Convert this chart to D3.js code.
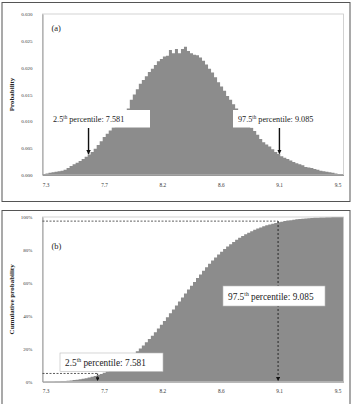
<!DOCTYPE html>
<html>
<head>
<meta charset="utf-8">
<script src="https://cdn.jsdelivr.net/npm/d3@7"></script>
<style>
body { margin: 0; background: #fff; }
svg { display: block; font-family: "Liberation Serif", "Times New Roman", serif; }
</style>
</head>
<body>
<div id="chart"></div>
<script>
// Histogram of simulated values (probability per bin)
const probs = [
    0.0002, 0.0003, 0.0004, 0.0005, 0.0006, 0.0007, 0.0008, 0.0010, 0.0013, 0.0017,
    0.0020, 0.0023, 0.0026, 0.0030, 0.0034, 0.0038, 0.0043, 0.0049, 0.0056, 0.0063,
    0.0071, 0.0077, 0.0083, 0.0089, 0.0096, 0.0103, 0.0112, 0.0120, 0.0124, 0.0140,
    0.0150, 0.0160, 0.0170, 0.0177, 0.0184, 0.0192, 0.0198, 0.0205, 0.0212, 0.0216,
    0.0221, 0.0222, 0.0233, 0.0227, 0.0235, 0.0227, 0.0235, 0.0239, 0.0231, 0.0227,
    0.0224, 0.0223, 0.0219, 0.0213, 0.0206, 0.0198, 0.0191, 0.0182, 0.0173, 0.0165,
    0.0157, 0.0147, 0.0140, 0.0132, 0.0124, 0.0116, 0.0108, 0.0101, 0.0094, 0.0088,
    0.0082, 0.0075, 0.0067, 0.0061, 0.0057, 0.0053, 0.0048, 0.0043, 0.0039, 0.0035,
    0.0032, 0.0030, 0.0027, 0.0024, 0.0022, 0.0020, 0.0018, 0.0015, 0.0014, 0.0013,
    0.0011, 0.0010, 0.0008, 0.0007, 0.0006, 0.0005, 0.0004, 0.0003, 0.0002, 0.0002
];
const binStart = 7.276;
const binWidth = 0.02269;

const xTicks = [7.3, 7.74, 8.18, 8.62, 9.06, 9.5];
const probTicks = [0, 0.005, 0.010, 0.015, 0.020, 0.025, 0.030];
const cumTicks = [0, 0.2, 0.4, 0.6, 0.8, 1.0];

// annotation positions (x in data units, as drawn in the figure)
const lowArrowA = 7.623, highArrowA = 9.062;
const lowArrowB = 7.691, highArrowB = 9.052;
const lowLevelB = 0.05, highLevelB = 0.975;

const total = d3.sum(probs);
const cum = Array.from(d3.cumsum(probs), v => v / total);

const W = 353, H = 404;
const fill = "#8c8c8c";
const serif = '"Liberation Serif", "Times New Roman", serif';

const svg = d3.select("#chart").append("svg")
    .attr("width", W).attr("height", H)
    .attr("font-family", serif);

const defs = svg.append("defs");
defs.append("marker")
    .attr("id", "head")
    .attr("viewBox", "0 0 10 10")
    .attr("refX", 9).attr("refY", 5)
    .attr("markerWidth", 3.2).attr("markerHeight", 3.2)
    .attr("markerUnits", "strokeWidth")
    .attr("orient", "auto")
    .append("path").attr("d", "M0,0L10,5L0,10Z").attr("fill", "#111");

const x = d3.scaleLinear()
    .domain([binStart, binStart + binWidth * probs.length])
    .range([42.5, 343.5]);

// step outline points: one per bin edge, last value repeated at the end
const steps = vals => vals.map((v, i) => ({x: binStart + i * binWidth, v}))
    .concat([{x: binStart + vals.length * binWidth, v: vals[vals.length - 1]}]);

// outer frames
svg.append("rect").attr("x", 2).attr("y", 2.5).attr("width", 348).attr("height", 199)
    .attr("fill", "none").attr("stroke", "#555").attr("stroke-width", 1);
svg.append("rect").attr("x", 2).attr("y", 210.5).attr("width", 348).attr("height", 210)
    .attr("fill", "none").attr("stroke", "#555").attr("stroke-width", 1);

function drawAxes(g, y, top, bottom, yTicks, yFmt, title) {
    g.append("rect")
        .attr("x", x.range()[0]).attr("y", top)
        .attr("width", x.range()[1] - x.range()[0]).attr("height", bottom - top)
        .attr("fill", "none").attr("stroke", "#c8c8c8").attr("stroke-width", 0.8);

    const xa = g.append("g")
        .attr("transform", `translate(0,${bottom})`)
        .call(d3.axisBottom(x).tickValues(xTicks).tickFormat(d3.format(".1f")).tickSize(0).tickPadding(8))
        .attr("font-family", serif).attr("font-size", 5.3);
    xa.select(".domain").attr("stroke", "#999");
    xa.selectAll("text").attr("fill", "#333");

    const yax = g.append("g")
        .attr("transform", `translate(${x.range()[0]},0)`)
        .call(d3.axisLeft(y).tickValues(yTicks).tickFormat(yFmt).tickSize(0).tickPadding(10))
        .attr("font-family", serif).attr("font-size", 5);
    yax.select(".domain").attr("stroke", "#999");
    yax.selectAll("text").attr("fill", "#333");

    g.append("text")
        .attr("transform", `translate(13.5,${(top + bottom) / 2}) rotate(-90)`)
        .attr("text-anchor", "middle")
        .attr("font-size", 7).attr("font-weight", "bold").attr("fill", "#222")
        .text(title);
}

function label(g, box, tx, ty, size, pre, post, stroke) {
    g.append("rect")
        .attr("x", box[0]).attr("y", box[1]).attr("width", box[2]).attr("height", box[3])
        .attr("fill", "#fff").attr("stroke", stroke).attr("stroke-width", 0.6);
    const t = g.append("text").attr("x", tx).attr("y", ty)
        .attr("font-size", size).attr("fill", "#222");
    t.append("tspan").text(pre);
    t.append("tspan").attr("font-size", size * 0.62).attr("dy", -size * 0.38).text("th");
    t.append("tspan").attr("dy", size * 0.38).text(post);
}

// ---- Panel (a): probability histogram ----
const ga = svg.append("g");
const ya = d3.scaleLinear().domain([0, 0.030]).range([175, 14]);

ga.append("path")
    .datum(steps(probs))
    .attr("d", d3.area().curve(d3.curveStepAfter)
        .x(d => x(d.x)).y0(ya(0)).y1(d => ya(d.v)))
    .attr("fill", fill);

drawAxes(ga, ya, 14, 175, probTicks, d3.format(".3f"), "Probability");

ga.append("text").attr("x", 51.5).attr("y", 31).attr("font-size", 8.5).attr("fill", "#222").text("(a)");

label(ga, [46, 110, 104, 17.5], 53, 122, 8.2, "2.5", " percentile: 7.581", "none");
label(ga, [233, 110, 96, 17.5], 238, 122, 8.2, "97.5", " percentile: 9.085", "none");

const binOf = v => probs[Math.floor((v - binStart) / binWidth)];
[lowArrowA, highArrowA].forEach(v => {
    ga.append("line")
        .attr("x1", x(v)).attr("x2", x(v))
        .attr("y1", 128).attr("y2", ya(binOf(v)) - 0.5)
        .attr("stroke", "#111").attr("stroke-width", 1.4)
        .attr("marker-end", "url(#head)");
});

// ---- Panel (b): cumulative probability ----
const gb = svg.append("g");
const yb = d3.scaleLinear().domain([0, 1]).range([381.7, 217]);

gb.append("path")
    .datum(steps(cum))
    .attr("d", d3.area().curve(d3.curveStepAfter)
        .x(d => x(d.x)).y0(yb(0)).y1(d => yb(d.v)))
    .attr("fill", fill);

drawAxes(gb, yb, 217, 381.7, cumTicks, d3.format(".0%"), "Cumulative probability");

gb.append("text").attr("x", 51.5).attr("y", 249).attr("font-size", 8.5).attr("fill", "#222").text("(b)");

// 97.5th percentile guide lines
gb.append("line")
    .attr("x1", x.range()[0]).attr("x2", x(highArrowB))
    .attr("y1", yb(highLevelB)).attr("y2", yb(highLevelB))
    .attr("stroke", "#333").attr("stroke-width", 0.8).attr("stroke-dasharray", "2,1.5");
gb.append("line")
    .attr("x1", x(highArrowB)).attr("x2", x(highArrowB))
    .attr("y1", yb(highLevelB)).attr("y2", yb(0) - 1)
    .attr("stroke", "#444").attr("stroke-width", 1.4).attr("stroke-dasharray", "2,2")
    .attr("marker-end", "url(#head)");

// 2.5th percentile guide lines
gb.append("line")
    .attr("x1", x.range()[0]).attr("x2", x(lowArrowB))
    .attr("y1", yb(lowLevelB)).attr("y2", yb(lowLevelB))
    .attr("stroke", "#333").attr("stroke-width", 0.8).attr("stroke-dasharray", "2,1.5");
gb.append("line")
    .attr("x1", x(lowArrowB)).attr("x2", x(lowArrowB))
    .attr("y1", yb(lowLevelB)).attr("y2", yb(0) - 1)
    .attr("stroke", "#444").attr("stroke-width", 1.2).attr("stroke-dasharray", "1.5,1")
    .attr("marker-end", "url(#head)");

label(gb, [223, 286, 102, 20], 228, 299.5, 9.3, "97.5", " percentile: 9.085", "#bbb");
label(gb, [60, 353, 103, 18.5], 65, 365.5, 9.3, "2.5", " percentile: 7.581", "#bbb");
</script>
</body>
</html>
